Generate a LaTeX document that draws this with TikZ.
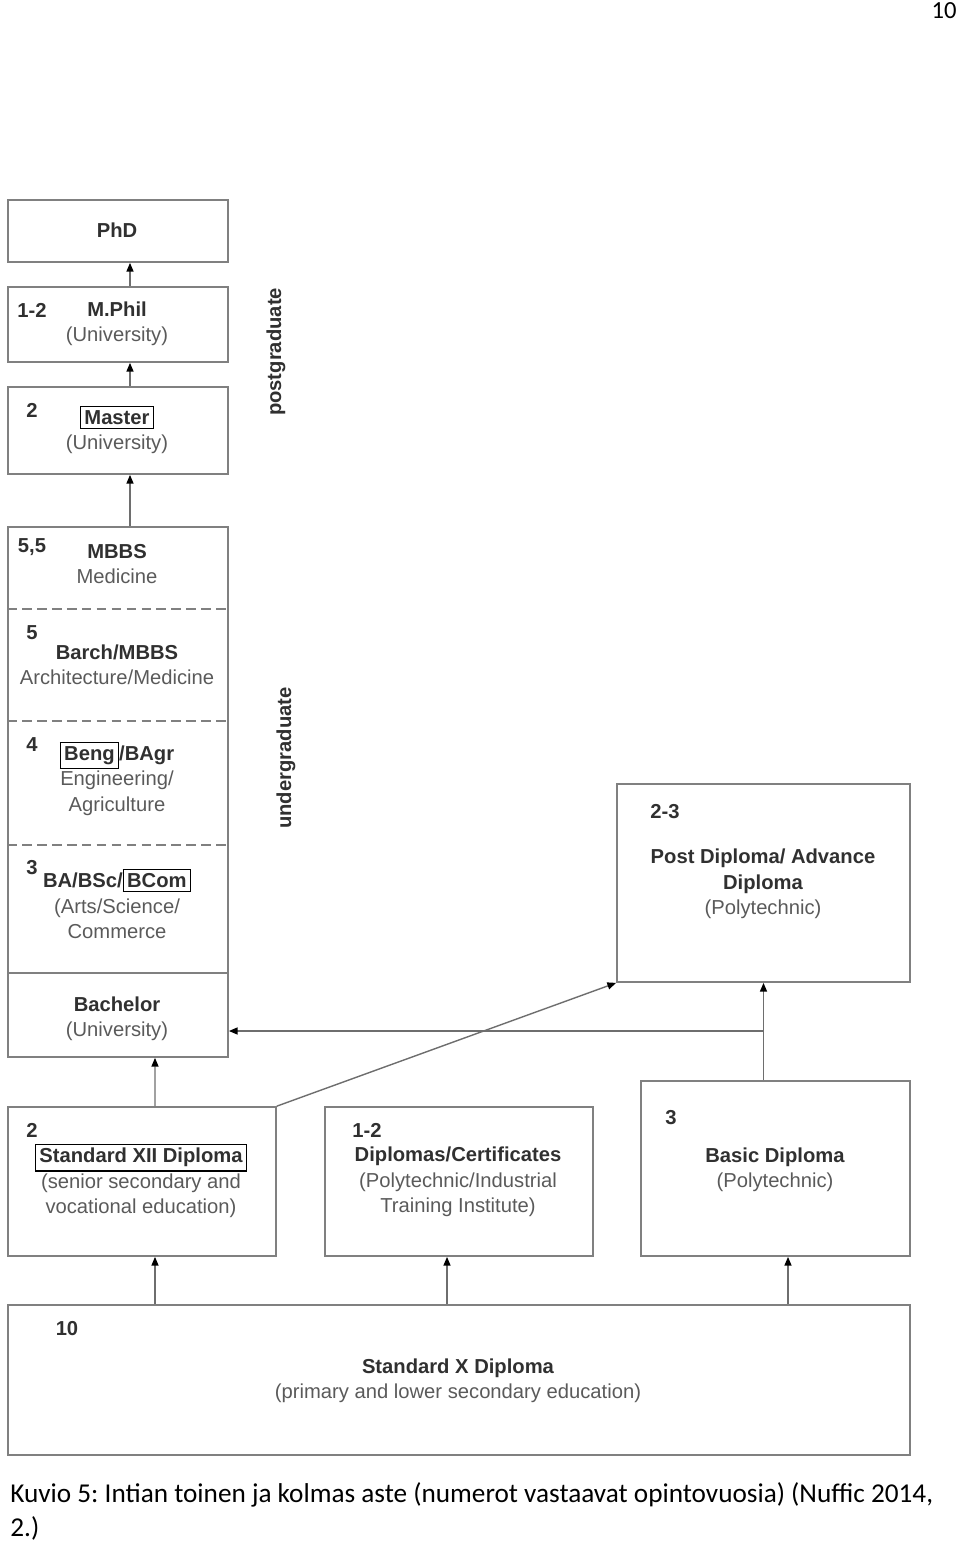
\documentclass[tikz,border=0pt]{standalone}
\usepackage{fontspec}
\setmainfont{Liberation Sans}
\newfontfamily\capfont{Carlito}
\usetikzlibrary{arrows.meta}
\definecolor{FrameGrey}{HTML}{808080}
\definecolor{LineGrey}{HTML}{6E6E6E}
\definecolor{TitleGrey}{HTML}{303030}
\definecolor{SubGrey}{HTML}{5A5A5A}
\newcommand{\ttl}[1]{\textcolor{TitleGrey}{\bfseries #1}}
\newcommand{\degbox}[1]{{\setlength{\fboxsep}{1.8pt}\setlength{\fboxrule}{0.7pt}\fcolorbox{black}{white}{#1}}}

\begin{document}
\begin{tikzpicture}[x=0.02cm,y=-0.02cm,
      level/.style={draw=FrameGrey,line width=1pt,inner sep=0pt},
      years/.style={font=\fontsize{11.5}{14.5}\selectfont\bfseries,text=TitleGrey},
      degree/.style={align=center,font=\fontsize{11.5}{14.5}\selectfont,text=SubGrey},
      side/.style={rotate=90,font=\fontsize{11.5}{14.5}\selectfont\bfseries,text=TitleGrey},
      split/.style={draw=FrameGrey,line width=1pt},
      arrow/.style={-{Triangle[length=5pt,width=4pt,color=black]},draw=LineGrey,line width=0.8pt}
    ]
      \useasboundingbox (0,0) rectangle (960,1545);

      \node[anchor=base east,inner sep=0pt,font=\capfont\fontsize{14}{16}\selectfont] (page) at (957,18) {10};

      \node[level,minimum width=4.4cm,minimum height=1.24cm] (phd) at (118,231) {};
      \node[level,minimum width=4.4cm,minimum height=1.5cm] (mphil) at (118,324.5) {};
      \node[level,minimum width=4.4cm,minimum height=1.74cm] (master) at (118,430.5) {};
      \node[level,minimum width=4.4cm,minimum height=10.6cm] (ug) at (118,792) {};
      \node[level,minimum width=5.86cm,minimum height=3.96cm] (postdip) at (763.5,883) {};
      \node[level,minimum width=5.36cm,minimum height=2.98cm] (stdxii) at (142,1181.5) {};
      \node[level,minimum width=5.36cm,minimum height=2.98cm] (dipcert) at (459,1181.5) {};
      \node[level,minimum width=5.38cm,minimum height=3.5cm] (basic) at (775.5,1168.5) {};
      \node[level,minimum width=18.04cm,minimum height=3cm] (stdx) at (459,1380) {};

      \draw[split,dash pattern=on 5.5pt off 3pt] (ug.west |- 0,609) -- (ug.east |- 0,609);
      \draw[split,dash pattern=on 5.5pt off 3pt] (ug.west |- 0,721) -- (ug.east |- 0,721);
      \draw[split,dash pattern=on 5.5pt off 3pt] (ug.west |- 0,845) -- (ug.east |- 0,845);
      \draw[split] (ug.west |- 0,973) -- (ug.east |- 0,973);

      \node[degree] (phdtxt) at (117,230) {\ttl{PhD}};
      \node[years] (mphilyr) at (32,310) {1-2};
      \node[degree] (mphiltxt) at (117,324) {\ttl{M.Phil}\\(University)};
      \node[years] (masteryr) at (32,410) {2};
      \node[degree] (mastertxt) at (117,430) {\degbox{\ttl{Master}}\\(University)};

      \node[years] (mbbsyr) at (32,547) {5,5};
      \node[degree] (mbbstxt) at (117,564) {\ttl{MBBS}\\Medicine};
      \node[years] (barchyr) at (32,633) {5};
      \node[degree] (barchtxt) at (117,665) {\ttl{Barch/MBBS}\\Architecture/Medicine};
      \node[years] (bengyr) at (32,745) {4};
      \node[degree] (bengtxt) at (117,778.5) {\ttl{\degbox{Beng}/BAgr}\\Engineering/\\Agriculture};
      \node[years] (bayr) at (32,868) {3};
      \node[degree] (batxt) at (117,904) {\ttl{BA/BSc/\degbox{BCom}}\\(Arts/Science/\\Commerce};
      \node[degree] (bachtxt) at (117,1019) {\ttl{Bachelor}\\(University)};

      \node[side] (postgrad) at (276,352) {postgraduate};
      \node[side] (undergrad) at (286,758) {undergraduate};

      \node[years] (postdipyr) at (665,812) {2-3};
      \node[degree] (postdiptxt) at (763,884) {\ttl{Post Diploma/ Advance}\\\ttl{Diploma}\\(Polytechnic)};
      \node[years] (stdxiiyr) at (32,1130) {2};
      \node[degree] (stdxiitxt) at (141,1181) {\degbox{\ttl{Standard XII Diploma}}\\(senior secondary and\\vocational education)};
      \node[years] (dipcertyr) at (367,1130) {1-2};
      \node[degree] (dipcerttxt) at (458,1182) {\ttl{Diplomas/Certificates}\\(Polytechnic/Industrial\\Training Institute)};
      \node[years] (basicyr) at (671,1118) {3};
      \node[degree] (basictxt) at (775,1170) {\ttl{Basic Diploma}\\(Polytechnic)};
      \node[years] (stdxyr) at (67,1329) {10};
      \node[degree] (stdxtxt) at (458,1381) {\ttl{Standard X Diploma}\\(primary and lower secondary education)};

      \draw[arrow] ([xshift=0.24cm]mphil.north) -- ([xshift=0.24cm]phd.south);
      \draw[arrow] ([xshift=0.24cm]master.north) -- ([xshift=0.24cm]mphil.south);
      \draw[arrow] ([xshift=0.24cm]ug.north) -- ([xshift=0.24cm]master.south);
      \draw[arrow] ([xshift=0.26cm]stdxii.north) -- ([xshift=0.74cm]ug.south);
      \draw[arrow] (stdxii.north east) -- (postdip.south west);
      \draw[arrow] (postdip.south |- basic.north) -- (postdip.south);
      \coordinate (join) at (postdip.south |- 0,1031);
      \draw[arrow] (join) -- (join -| ug.east);

      \coordinate (up1) at ([xshift=0.26cm]stdxii.south);
      \coordinate (up2) at ([xshift=-0.24cm]dipcert.south);
      \coordinate (up3) at ([xshift=0.25cm]basic.south);
      \draw[arrow] (up1 |- stdx.north) -- (up1);
      \draw[arrow] (up2 |- stdx.north) -- (up2);
      \draw[arrow] (up3 |- stdx.north) -- (up3);

      \node[anchor=base west,align=left,inner sep=0pt,font=\capfont\fontsize{15.5}{19}\selectfont\frenchspacing] (caption) at (10,1536) {Kuvio 5: Intian toinen ja kolmas aste (numerot vastaavat opintovuosia) (Nuffic 2014,\\2.)};
    \end{tikzpicture}
\end{document}
